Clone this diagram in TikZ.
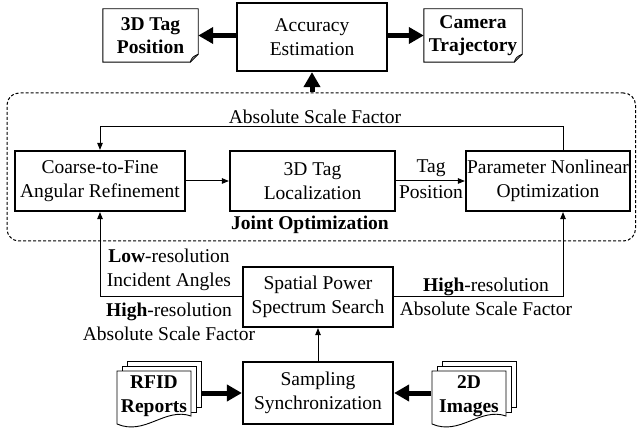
\documentclass[tikz,border=0pt]{standalone}
\usepackage{fontspec}
\setmainfont{Liberation Serif}
\usetikzlibrary{arrows.meta,calc}
\newcommand\mystack[1]{%
  \begin{scope}[shift={(#1)}]
    \filldraw[sheet] (-27,-35) rectangle (47,11);
    \filldraw[sheet] (-32,-30) rectangle (42,16);
    \filldraw[sheet] (-37,-25) -- (37,-25) -- (37,20) .. controls (11,11) and (-9,40) .. (-37,28) -- cycle;
  \end{scope}}
\begin{document}
\begin{tikzpicture}[x=1pt,y=-1pt,
  every node/.style={font=\fontsize{19.5}{23.5}\selectfont, align=center, inner sep=0pt},
  bold/.style={font=\fontsize{19.5}{23.5}\selectfont\bfseries},
  pbox/.style={draw, line width=2.2pt, minimum width=#1, minimum height=60pt},
  sheet/.style={fill=white, draw=black, line width=0.9pt},
  docline/.style={line width=0.9pt},
  conn/.style={line width=1pt, -{Triangle[length=7pt,width=5.5pt]}},
  bigarrow/.style={line width=5pt, -{Triangle[length=15pt,width=16pt]}},
  frame/.style={draw, dashed, dash pattern=on 3pt off 2pt, line width=1pt, rounded corners=12pt}]
\useasboundingbox (0,0) rectangle (637,430);

% top row
\node[pbox=150pt, minimum height=68pt] (acc) at (312,37) {Accuracy\\Estimation};
\node[bold, minimum width=95pt, minimum height=53pt] (tp) at (150.5,35.5) {3D Tag\\Position};
\draw[docline] (tp.north west) -- (tp.north east) -- ($(tp.south east)+(0,-8)$) -- ($(tp.south east)+(-8,0)$) -- (tp.south west) -- cycle;
\draw[docline] ($(tp.south east)+(-8,0)$) .. controls ($(tp.south east)+(-6,-5)$) .. ($(tp.south east)+(0,-8)$);
\node[bold, minimum width=98pt, minimum height=53pt] (ct) at (473,35.5) {Camera\\Trajectory};
\draw[docline] (ct.north west) -- (ct.north east) -- ($(ct.south east)+(0,-8)$) -- ($(ct.south east)+(-8,0)$) -- (ct.south west) -- cycle;
\draw[docline] ($(ct.south east)+(-8,0)$) .. controls ($(ct.south east)+(-6,-5)$) .. ($(ct.south east)+(0,-8)$);
\draw[bigarrow] (acc.west |- tp.east) -- (tp.east);
\draw[bigarrow] (acc.east |- ct.west) -- (ct.west);

% joint optimization frame
\node[frame, minimum width=628.5pt, minimum height=148pt] (jo) at (321.25,167) {};
\draw[bigarrow] (acc.south |- jo.north) -- (acc.south);
\node (asf) at (315,117) {Absolute Scale Factor};
\node[pbox=170pt] (coarse) at (100,181) {Coarse-to-Fine\\Angular Refinement};
\node[pbox=165pt] (loc) at (312.5,181) {3D Tag\\Localization};
\node[pbox=164pt] (param) at (548,181) {Parameter Nonlinear\\Optimization};
\coordinate (fb) at (100,127);
\draw[conn] ([xshift=15pt]param.north) |- (fb) -- (coarse.north);
\draw[conn] (coarse) -- (loc);
\draw[conn] (loc) -- (param);
\node (tagl) at (431,168) {Tag};
\node (posl) at (431,192) {Position};
\node[bold] (jol) at (310,225) {Joint Optimization};

% lower part
\node[pbox=150pt, minimum height=60pt] (spat) at (318,297) {Spatial Power\\Spectrum Search};
\node[pbox=150pt, minimum height=62pt] (samp) at (318,393) {Sampling\\Synchronization};
\draw[conn] (samp) -- (spat);
\draw[conn] (spat.west) -| (coarse.south);
\draw[conn] (spat.east) -| ([xshift=15pt]param.south);
\node (lowl) at (169,270) {\textbf{Low}-resolution\\Incident Angles};
\node (highl) at (169,322) {\textbf{High}-resolution\\Absolute Scale Factor};
\node (highr) at (486,297) {\textbf{High}-resolution\\Absolute Scale Factor};

% input stacks
\coordinate (rfidc) at (154,396);
\coordinate (imgc) at (469,396);
\mystack{rfidc}
\mystack{imgc}
\node[bold] (rfid) at (rfidc) {RFID\\Reports};
\node[bold] (img) at (imgc) {2D\\Images};
\coordinate (rfidout) at ($(rfidc)+(47,-3)$);
\coordinate (imgout) at ($(imgc)+(-38,-3)$);
\draw[bigarrow] (rfidout) -- (samp.west |- rfidout);
\draw[bigarrow] (imgout) -- (samp.east |- imgout);
\end{tikzpicture}
\end{document}
